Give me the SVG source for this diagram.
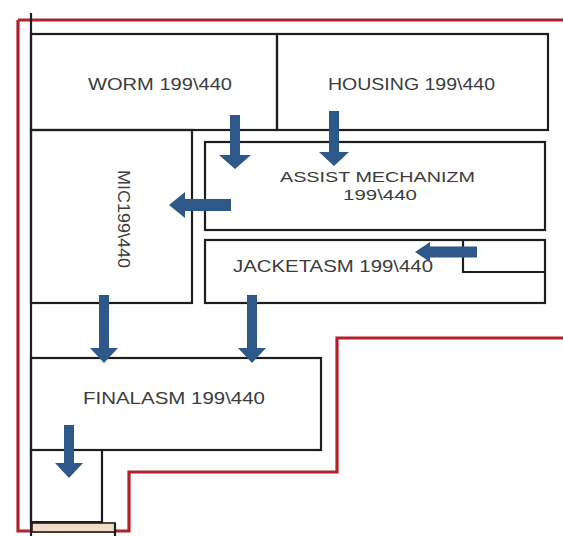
<svg xmlns="http://www.w3.org/2000/svg" width="563" height="536" viewBox="0 0 563 536">
<style>
.box{fill:none;stroke:#1e1e1e;stroke-width:2.2}
.red{fill:none;stroke:#b3222b;stroke-width:3.2}
.lbl{font-family:"Liberation Sans",Arial,sans-serif;font-size:16.5px;fill:#3c3c3c;text-anchor:middle}
.sm{font-size:15px}
.arrow{fill:#2d5889;stroke:none}
</style>
<rect width="563" height="536" fill="#ffffff"/>
<g id="outline">
<path class="red" d="M18,20 H563 M18,20 V531 H129 V472 H337 V338 H563"/>
<line class="box" x1="31" y1="13" x2="31" y2="536"/>
</g>
<g id="worm">
<rect class="box" x="31" y="34" width="246" height="96"/>
<text class="lbl" x="160" y="90" textLength="144" lengthAdjust="spacingAndGlyphs">WORM 199\440</text>
</g>
<g id="housing">
<rect class="box" x="277" y="34" width="271" height="96"/>
<text class="lbl" x="411.5" y="90" textLength="167" lengthAdjust="spacingAndGlyphs">HOUSING 199\440</text>
</g>
<g id="mic">
<rect class="box" x="31" y="130" width="161" height="173"/>
<text class="lbl" transform="translate(118,219) rotate(90)" x="0" y="0" textLength="98" lengthAdjust="spacingAndGlyphs">MIC199\440</text>
</g>
<g id="assist">
<rect class="box" x="205" y="142" width="340" height="88"/>
<text class="lbl sm" x="377.5" y="182" textLength="195" lengthAdjust="spacingAndGlyphs">ASSIST MECHANIZM</text>
<text class="lbl sm" x="380" y="199.5" textLength="74" lengthAdjust="spacingAndGlyphs">199\440</text>
</g>
<g id="jacket">
<rect class="box" x="205" y="240" width="340" height="63"/>
<path class="box" d="M463,240 V272 H545"/>
<text class="lbl" x="333" y="272" textLength="200" lengthAdjust="spacingAndGlyphs">JACKETASM 199\440</text>
</g>
<g id="final">
<rect class="box" x="31" y="358" width="290" height="92"/>
<text class="lbl" x="174" y="404" textLength="182" lengthAdjust="spacingAndGlyphs">FINALASM 199\440</text>
</g>
<g id="bottom-box">
<path class="box" d="M31,450 V522 H102 V450"/>
<rect x="32" y="523" width="83" height="9" fill="#f3dcc6" stroke="#1e1e1e" stroke-width="1.6"/>
<line class="box" x1="115" y1="523" x2="115" y2="536"/>
</g>
<g id="connectors">
<path class="arrow" d="M230,115 H240 V155 H251 L235,169 L219,155 H230 Z"/>
<path class="arrow" d="M329,111 H339 V152 H349 L334,166 L319,152 H329 Z"/>
<path class="arrow" d="M231,199 V211 H185 V218 L169,205 L185,192 V199 Z"/>
<path class="arrow" d="M477,246.5 V257.5 H430 V262 L415,252 L430,242 V246.5 Z"/>
<path class="arrow" d="M99,295 H109 V348 H118 L104,363 L90,348 H99 Z"/>
<path class="arrow" d="M247,295 H257 V348 H266 L252,363 L238,348 H247 Z"/>
<path class="arrow" d="M64,425 H74 V463 H83 L69,478 L55,463 H64 Z"/>
</g>
</svg>
